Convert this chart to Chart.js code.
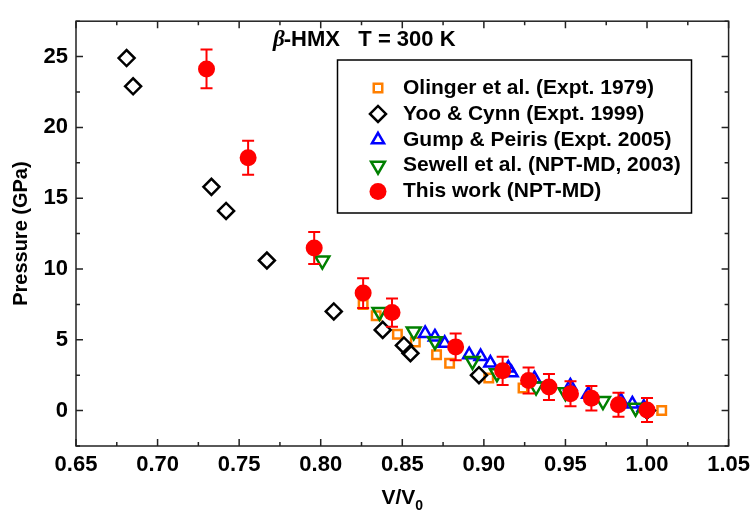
<!DOCTYPE html>
<html lang="en">
<head>
<meta charset="UTF-8">
<title>beta-HMX P-V isotherm</title>
<script src="https://cdn.jsdelivr.net/npm/chart.js@4"></script>
<style>
  html, body { margin: 0; padding: 0; background: #fff; }
  #wrap { width: 756px; height: 514px; }
</style>
</head>
<body>
<div id="wrap"><canvas id="eos" width="756" height="514"></canvas></div>
<script>
// V/V0 and pressure (GPa) for each data set
const olingerV = [0.826, 0.834, 0.847, 0.858, 0.871, 0.879, 0.903, 0.924, 1.009];
const olingerP = [7.5, 6.7, 5.4, 4.85, 3.95, 3.35, 2.3, 1.6, 0.0];

const yooV = [0.681, 0.685, 0.733, 0.742, 0.767, 0.808, 0.838, 0.851, 0.855, 0.897, 1.000];
const yooP = [24.9, 22.9, 15.8, 14.1, 10.6, 7.0, 5.7, 4.6, 4.05, 2.5, 0.0];

const gumpV = [0.864, 0.870, 0.876, 0.891, 0.898, 0.904, 0.915, 0.917, 0.931, 0.953, 0.953, 0.964, 0.984, 0.991, 0.998];
const gumpP = [5.45, 5.2, 4.75, 3.95, 3.82, 3.36, 3.0, 2.67, 2.25, 1.74, 1.4, 1.16, 0.7, 0.47, 0.24];

const sewellV = [0.801, 0.836, 0.857, 0.870, 0.893, 0.908, 0.932, 0.950, 0.973, 0.993];
const sewellP = [10.6, 6.97, 5.59, 4.9, 3.51, 2.64, 1.7, 1.3, 0.67, 0.2];

const thisV = [0.730, 0.7555, 0.796, 0.826, 0.8437, 0.8827, 0.9115, 0.9274, 0.9399, 0.9531, 0.9659, 0.9825, 1.000];
const thisP = [24.13, 17.85, 11.48, 8.3, 6.92, 4.5, 2.81, 2.12, 1.66, 1.19, 0.87, 0.41, 0.04];
const thisErr = [1.37, 1.2, 1.13, 1.05, 1.0, 0.95, 1.0, 0.92, 0.92, 0.88, 0.86, 0.85, 0.85];

const xMin = 0.65, xMax = 1.05, xStep = 0.025;
const yMin = -2.5, yMax = 27.5, yStep = 2.5;

const legendNames = [
  'Olinger et al. (Expt. 1979)',
  'Yoo & Cynn (Expt. 1999)',
  'Gump & Peiris (Expt. 2005)',
  'Sewell et al. (NPT-MD, 2003)',
  'This work (NPT-MD)'
];

const FONT = '"Liberation Sans", Arial, sans-serif';
const pts = (xs, ys) => xs.map((v, i) => ({ x: v, y: ys[i] }));
const clear = 'rgba(255,255,255,0)';

const datasets = [
  { label: legendNames[0], data: pts(olingerV, olingerP), order: 4,
    pointStyle: 'rect', pointRadius: 6, borderColor: '#FF7F00', backgroundColor: clear, borderWidth: 2.5 },
  { label: legendNames[1], data: pts(yooV, yooP), order: 2,
    pointStyle: 'rectRot', pointRadius: 8, borderColor: '#000000', backgroundColor: clear, borderWidth: 2.5 },
  { label: legendNames[2], data: pts(gumpV, gumpP), order: 3,
    pointStyle: 'triangle', pointRadius: 7, borderColor: '#0000FF', backgroundColor: clear, borderWidth: 2.5 },
  { label: legendNames[3], data: pts(sewellV, sewellP), order: 1,
    pointStyle: 'triangle', pointRotation: 180, pointRadius: 8, borderColor: '#008000', backgroundColor: clear, borderWidth: 2.5 },
  { label: legendNames[4], data: pts(thisV, thisP), order: 0,
    pointStyle: 'circle', pointRadius: 8.5, borderColor: '#FF0000', backgroundColor: '#FF0000', borderWidth: 0 }
];

// error bars on the NPT-MD points
const errorBars = {
  id: 'errorBars',
  afterDatasetsDraw(chart) {
    const { ctx, scales: { x, y } } = chart;
    ctx.save();
    ctx.strokeStyle = '#FF0000';
    ctx.lineWidth = 2;
    thisV.forEach((v, i) => {
      const px = x.getPixelForValue(v);
      const top = y.getPixelForValue(thisP[i] + thisErr[i]);
      const bot = y.getPixelForValue(thisP[i] - thisErr[i]);
      ctx.beginPath();
      ctx.moveTo(px, top); ctx.lineTo(px, bot);
      ctx.moveTo(px - 6, top); ctx.lineTo(px + 6, top);
      ctx.moveTo(px - 6, bot); ctx.lineTo(px + 6, bot);
      ctx.stroke();
    });
    ctx.restore();
  }
};

function marker(ctx, ds, px, py) {
  const opts = {
    pointStyle: ds.pointStyle, radius: ds.pointRadius, rotation: ds.pointRotation || 0,
    borderWidth: ds.borderWidth
  };
  ctx.save();
  ctx.strokeStyle = ds.borderColor;
  ctx.fillStyle = ds.backgroundColor;
  ctx.lineWidth = ds.borderWidth;
  Chart.helpers.drawPoint(ctx, opts, px, py);
  ctx.restore();
}

// frame with inward ticks, axis titles, caption and legend box
const decor = {
  id: 'decor',
  afterDraw(chart) {
    const { ctx, chartArea: a, scales: { x, y } } = chart;
    ctx.save();
    ctx.strokeStyle = '#222';
    ctx.lineWidth = 1.5;
    ctx.strokeRect(a.left, a.top, a.right - a.left, a.bottom - a.top);

    ctx.beginPath();
    x.ticks.forEach((t, i) => {
      const px = x.getPixelForValue(t.value);
      const len = i % 2 === 0 ? 7 : 4;
      ctx.moveTo(px, a.bottom); ctx.lineTo(px, a.bottom - len);
      ctx.moveTo(px, a.top); ctx.lineTo(px, a.top + len);
    });
    y.ticks.forEach(t => {
      const py = y.getPixelForValue(t.value);
      const major = Math.abs(t.value / 5 - Math.round(t.value / 5)) < 1e-6;
      const len = major ? 7 : 4;
      ctx.moveTo(a.left, py); ctx.lineTo(a.left + len, py);
      ctx.moveTo(a.right, py); ctx.lineTo(a.right - len, py);
    });
    ctx.stroke();

    ctx.fillStyle = '#000';
    // y title
    ctx.save();
    ctx.translate(21, (a.top + a.bottom) / 2);
    ctx.rotate(-Math.PI / 2);
    ctx.font = 'bold 20px ' + FONT;
    ctx.textAlign = 'center';
    ctx.textBaseline = 'middle';
    ctx.fillText('Pressure (GPa)', 0, 0);
    ctx.restore();

    // x title V/V0
    ctx.textBaseline = 'alphabetic';
    ctx.textAlign = 'left';
    const main = 'V/V';
    ctx.font = 'bold 21px ' + FONT;
    const wMain = ctx.measureText(main).width;
    ctx.font = 'bold 14px ' + FONT;
    const wSub = ctx.measureText('0').width;
    const x0 = (a.left + a.right) / 2 - (wMain + wSub) / 2;
    ctx.font = 'bold 21px ' + FONT;
    ctx.fillText(main, x0, 504);
    ctx.font = 'bold 14px ' + FONT;
    ctx.fillText('0', x0 + wMain, 510);

    // caption
    ctx.font = 'italic bold 23px "Liberation Serif", serif';
    ctx.fillText('\u03B2', 273, 46);
    const bw = ctx.measureText('\u03B2').width;
    ctx.font = 'bold 22px ' + FONT;
    ctx.fillText('-HMX   T = 300 K', 273 + bw - 1, 46);

    // legend
    ctx.strokeStyle = '#000';
    ctx.lineWidth = 1.5;
    ctx.strokeRect(337.5, 60, 354, 153);
    ctx.font = 'bold 21px ' + FONT;
    ctx.textBaseline = 'middle';
    chart.data.datasets.forEach((ds, i) => {
      const ry = 88 + i * 25.9;
      marker(ctx, ds, 378, ry);
      ctx.fillStyle = '#000';
      ctx.fillText(legendNames[i], 403, ry);
    });
    ctx.restore();
  }
};

new Chart(document.getElementById('eos'), {
  type: 'scatter',
  data: { datasets },
  options: {
    responsive: false,
    animation: false,
    devicePixelRatio: 1,
    layout: { padding: { top: 13, right: 23, left: 0, bottom: 0 } },
    plugins: { legend: { display: false }, tooltip: { enabled: false } },
    scales: {
      x: {
        type: 'linear', min: xMin, max: xMax,
        afterFit(s) { s.height = 68; },
        grid: { display: false, drawTicks: false },
        border: { display: false },
        ticks: {
          stepSize: xStep, autoSkip: false, maxRotation: 0, padding: 6,
          color: '#000', font: { family: FONT, size: 22, weight: 'bold' },
          callback: (v, i) => (i % 2 === 0 ? v.toFixed(2) : '')
        }
      },
      y: {
        type: 'linear', min: yMin, max: yMax,
        afterFit(s) { s.width = 76; },
        grid: { display: false, drawTicks: false },
        border: { display: false },
        ticks: {
          stepSize: yStep, autoSkip: false, padding: 8,
          color: '#000', font: { family: FONT, size: 22, weight: 'bold' },
          callback: v => {
            const r = Math.round(v);
            return Math.abs(v - r) < 1e-6 && r % 5 === 0 && r >= 0 && r <= 25 ? String(r) : '';
          }
        }
      }
    }
  },
  plugins: [errorBars, decor]
});
</script>
</body>
</html>
